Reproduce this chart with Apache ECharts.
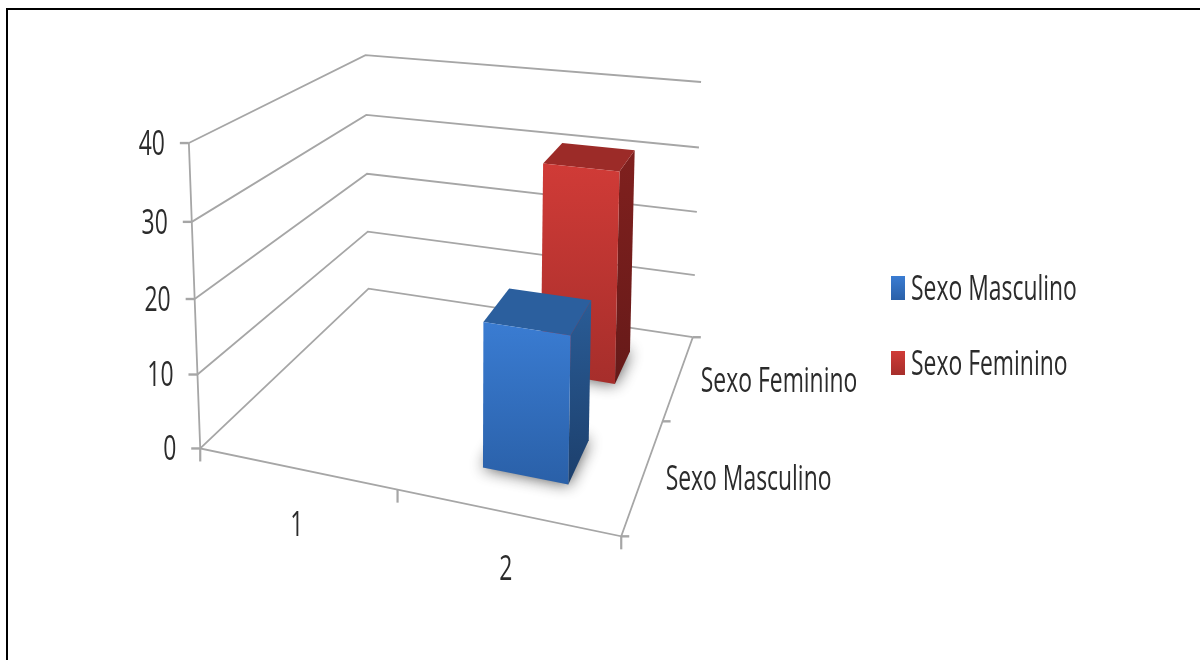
<!DOCTYPE html>
<html>
<head>
<meta charset="utf-8">
<style>html,body{margin:0;padding:0;background:#fff}#chart{width:1200px;height:660px}</style>
<script src="https://cdn.jsdelivr.net/npm/echarts@6/dist/echarts.min.js"></script>
</head>
<body>
<div id="chart"></div>
<script>
// Chart data
const categories = ['1', '2'];
const depthLabels = ['Sexo Masculino', 'Sexo Feminino'];
const valueTicks = [0, 10, 20, 30, 40];
const masculino = [null, 19];
const feminino = [null, 31];

// Bar footprint inside its category / depth slot (0..1 of the slot)
const BAR_FROM = 0.3, BAR_TO = 0.7;
const FONT = '"Open Sans", sans-serif';
const LINE = '#a6a6a6';
const INK = '#2b2b2b';

// Camera calibration: box position [u, v, w] -> screen [x, y]
const box = [
  [0,0,0,200.5,449],[0,0,10,198,375],[0,0,20,194.5,298],[0,0,30,191,222],[0,0,40,189,143],
  [0,2,0,368,288],[0,2,10,368,231],[0,2,20,367,174],[0,2,30,366,116],[0,2,40,366,55],
  [2,2,0,693,338],[2,2,10,694.5,275],[2,2,20,697,212],[2,2,30,699,147],[2,2,40,701,82],
  [2,0,0,620.5,536],[1,0,0,398,490],[2,1,0,663,421]
];

// Least-squares fit of a 3x4 projective camera
function fitCamera(pts) {
  const n = 11, A = [], b = [];
  for (let i = 0; i < n; i++) { A.push(new Array(n).fill(0)); b.push(0); }
  const add = (r, t) => {
    for (let i = 0; i < n; i++) {
      b[i] += r[i] * t;
      for (let j = 0; j < n; j++) A[i][j] += r[i] * r[j];
    }
  };
  pts.forEach(([u, v, w, x, y]) => {
    const z = w / 20;
    add([u, v, z, 1, 0, 0, 0, 0, -x * u, -x * v, -x * z], x);
    add([0, 0, 0, 0, u, v, z, 1, -y * u, -y * v, -y * z], y);
  });
  for (let c = 0; c < n; c++) {
    let p = c;
    for (let r = c + 1; r < n; r++) if (Math.abs(A[r][c]) > Math.abs(A[p][c])) p = r;
    [A[c], A[p]] = [A[p], A[c]];
    [b[c], b[p]] = [b[p], b[c]];
    for (let r = 0; r < n; r++) {
      if (r === c) continue;
      const f = A[r][c] / A[c][c];
      for (let k = c; k < n; k++) A[r][k] -= f * A[c][k];
      b[r] -= f * b[c];
    }
  }
  return b.map((val, i) => val / A[i][i]);
}
const cam = fitCamera(box);
function project(u, v, w) {
  const z = w / 20;
  const d = cam[8] * u + cam[9] * v + cam[10] * z + 1;
  return [
    (cam[0] * u + cam[1] * v + cam[2] * z + cam[3]) / d,
    (cam[4] * u + cam[5] * v + cam[6] * z + cam[7]) / d
  ];
}

const vgrad = (top, bottom) => new echarts.graphic.LinearGradient(0, 0, 0, 1, [
  { offset: 0, color: top }, { offset: 1, color: bottom }
]);
const line = (pts, width, color) => ({
  type: 'polyline', silent: true,
  shape: { points: pts },
  style: { stroke: color || LINE, lineWidth: width || 1.8, fill: null }
});
const poly = (pts, fill, extra) => ({
  type: 'polygon', silent: true,
  shape: { points: pts },
  style: Object.assign({ fill: fill }, extra || {})
});
// Tall, condensed lettering: Open Sans squeezed horizontally
const label = (text, x, y, align) => ({
  type: 'text', silent: true, x: x, y: y, scaleX: 0.79, scaleY: 1.18,
  style: { text: text, x: 0, y: 0, font: '29px ' + FONT, fill: INK, textAlign: align, textVerticalAlign: 'middle' }
});

// The grid's scales turn a data pair back into box coordinates
function toBox(api, params, cat, val) {
  const r = params.coordSys;
  const p = api.coord([cat, val]);
  return { u: (p[0] - r.x) / r.width * categories.length, w: (r.y + r.height - p[1]) / r.height * 40 };
}

function renderFrame(params, api) {
  const kids = [];
  valueTicks.forEach(t => {
    const w = toBox(api, params, 0, t).w;
    const a = project(0, 0, w), b = project(0, 2, w), c = project(2, 2, w);
    kids.push(line([a, b, c]));
    kids.push(line([[a[0] - 9, a[1]], a], 2.4));
    kids.push(label(String(t), a[0] - 24, a[1] + 2, 'right'));
  });
  const A = project(0, 0, 0), B = project(2, 0, 0), C = project(2, 2, 0), T = project(0, 0, 40);
  kids.push(line([T, A, B, C]));
  [0, 1, 2].forEach(i => {
    const p = project(i, 0, 0);
    kids.push(line([p, [p[0], p[1] + 13]], 2.2));
  });
  [0, 1, 2].forEach(i => {
    const p = project(2, i, 0);
    kids.push(line([p, [p[0] + 8, p[1]]], 2.4));
  });
  categories.forEach((c, i) => {
    const p = project(i + 0.5, 0, 0);
    kids.push(label(c, p[0] + (i ? 0 : 1), p[1] + 58, 'center'));
  });
  depthLabels.forEach((c, i) => {
    const p = project(2, i + 0.5, 0);
    kids.push(label(c, p[0] + 22, p[1] + 6, 'left'));
  });
  return { type: 'group', children: kids };
}

function barRenderer(depth, colors) {
  return function (params, api) {
    const val = api.value(1);
    if (val == null || isNaN(val)) return null;
    const pos = toBox(api, params, api.value(0), val);
    const cat = Math.floor(pos.u);
    const u0 = cat + BAR_FROM, u1 = cat + BAR_TO, v0 = depth + BAR_FROM, v1 = depth + BAR_TO;
    const w = pos.w;
    const P = project;
    return {
      type: 'group',
      children: [
        // soft contact shadow on the floor
        poly([P(u0, v0, 0), P(u1, v0, 0), P(u1, v1, 0), P(u0, v1, 0)], '#a8a8a8',
          { shadowBlur: 16, shadowColor: 'rgba(70,70,70,0.95)' }),
        poly([P(u1, v0, 0), P(u1, v1, 0), P(u1, v1, w), P(u1, v0, w)], vgrad(colors.side[0], colors.side[1])),
        poly([P(u0, v0, w), P(u1, v0, w), P(u1, v1, w), P(u0, v1, w)], colors.top),
        poly([P(u0, v0, 0), P(u1, v0, 0), P(u1, v0, w), P(u0, v0, w)], vgrad(colors.front[0], colors.front[1]))
      ]
    };
  };
}

const blue = { front: ['#3a7cd2', '#2a60a8'], side: ['#2a5c96', '#1c3f6c'], top: '#2b5f9e' };
const red = { front: ['#d03b37', '#a62e2b'], side: ['#80201e', '#661a19'], top: '#9c2b28' };

// Legend rows: swatch plus squeezed caption
const legendRows = [
  { name: 'Sexo Masculino', colors: blue, top: 276 },
  { name: 'Sexo Feminino', colors: red, top: 351 }
];
const legendGraphics = [];
legendRows.forEach(row => {
  legendGraphics.push({
    type: 'rect', silent: true,
    shape: { x: 891, y: row.top, width: 14, height: 24 },
    style: { fill: vgrad(row.colors.front[0], row.colors.front[1]) }
  });
  legendGraphics.push(label(row.name, 911, row.top + 14, 'left'));
});

const chart = echarts.init(document.getElementById('chart'), null, { renderer: 'canvas' });
chart.setOption({
  animation: false,
  backgroundColor: '#ffffff',
  grid: { left: 200, top: 100, width: 400, height: 320, show: false },
  xAxis: { type: 'category', data: categories, show: false },
  yAxis: { type: 'value', min: 0, max: 40, interval: 10, show: false },
  graphic: [{
    type: 'polyline', silent: true, z: 10,
    shape: { points: [[7, 660], [7, 9], [1200, 9]] },
    style: { stroke: '#000', lineWidth: 2, fill: null }
  }].concat(legendGraphics),
  series: [
    { name: 'axes', type: 'custom', renderItem: renderFrame, data: [[0, 0]], clip: false, silent: true, z: 1 },
    { name: 'Sexo Feminino', type: 'custom', renderItem: barRenderer(1, red), data: feminino.map((v, i) => [i, v]), encode: { x: 0, y: 1 }, clip: false, silent: true, z: 2 },
    { name: 'Sexo Masculino', type: 'custom', renderItem: barRenderer(0, blue), data: masculino.map((v, i) => [i, v]), encode: { x: 0, y: 1 }, clip: false, silent: true, z: 3 }
  ]
});
</script>
</body>
</html>
